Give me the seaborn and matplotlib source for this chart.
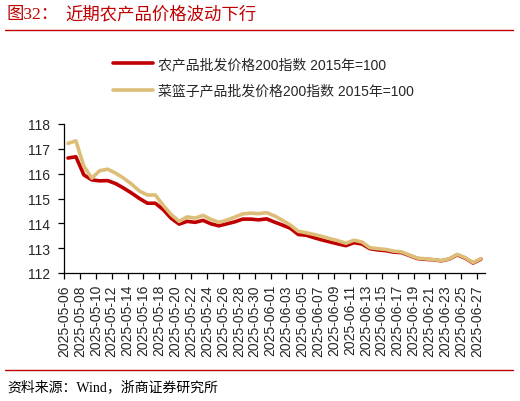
import matplotlib
matplotlib.use('Agg')
import pandas as pd
import matplotlib.pyplot as plt
import matplotlib.dates as mdates
import seaborn as sns
from matplotlib.lines import Line2D

# daily dates shown on the chart
dates = pd.date_range('2025-05-06', '2025-06-27', freq='D')

# 农产品批发价格200指数 (2015=100)
agri_200 = [116.63, 116.68, 115.95, 115.75, 115.71, 115.72, 115.60, 115.42, 115.22, 115.00,
            114.81, 114.81, 114.55, 114.20, 113.97, 114.08, 114.04, 114.12, 113.98, 113.90,
            113.98, 114.06, 114.17, 114.17, 114.14, 114.18, 114.05, 113.93, 113.80, 113.55,
            113.52, 113.42, 113.33, 113.25, 113.17, 113.10, 113.22, 113.17, 112.98, 112.93,
            112.90, 112.84, 112.82, 112.70, 112.58, 112.55, 112.53, 112.49, 112.56, 112.73,
            112.60, 112.40, 112.56]

# 菜篮子产品批发价格200指数 (2015=100)
basket_200 = [117.22, 117.32, 116.30, 115.82, 116.12, 116.18, 116.02, 115.82, 115.58, 115.30,
              115.14, 115.14, 114.72, 114.35, 114.08, 114.26, 114.21, 114.32, 114.16, 114.04,
              114.13, 114.25, 114.38, 114.41, 114.39, 114.43, 114.30, 114.12, 113.93, 113.68,
              113.62, 113.55, 113.47, 113.38, 113.30, 113.20, 113.32, 113.25, 113.02, 112.98,
              112.95, 112.88, 112.85, 112.72, 112.60, 112.57, 112.54, 112.50, 112.57, 112.75,
              112.62, 112.42, 112.58]

labels = ['农产品批发价格200指数 2015年=100', '菜篮子产品批发价格200指数 2015年=100']
tick_dates = dates[::2]
tick_labels = [d.strftime('%Y-%m-%d') for d in tick_dates]
y_ticks = [112, 113, 114, 115, 116, 117, 118]

df = pd.DataFrame({'date': dates, 'agri': agri_200, 'basket': basket_200})

sns.set_style('white')
plt.rcParams['font.family'] = ['Liberation Sans', 'Noto Sans CJK SC']

red = '#C00000'
tan = '#DDBE78'

fig = plt.figure(figsize=(5.2, 4.02), dpi=100)
ax = fig.add_axes([64 / 520, 1 - 274 / 402, 421 / 520, 149 / 402])

sns.lineplot(data=df, x='date', y='agri', color=red, linewidth=2.6, label=labels[0], ax=ax)
sns.lineplot(data=df, x='date', y='basket', color=tan, linewidth=2.6, label=labels[1], ax=ax)

half = pd.Timedelta(hours=12)
ax.set_xlim(mdates.date2num(dates[0] - half), mdates.date2num(dates[-1] + half))
ax.set_ylim(112, 118)
ax.set_xticks(mdates.date2num(tick_dates - half))
ax.set_xticklabels(tick_labels, rotation=90, fontsize=10)
ax.set_yticks(y_ticks)
ax.set_yticklabels([str(v) for v in y_ticks], fontsize=10)
ax.set_xlabel('')
ax.set_ylabel('')

for side in ['top', 'right']:
    ax.spines[side].set_visible(False)
for side in ['left', 'bottom']:
    ax.spines[side].set_color('black')
    ax.spines[side].set_linewidth(0.9)
ax.tick_params(axis='both', which='major', direction='out', length=4, width=0.9,
               color='black', left=True, bottom=True)
ax.tick_params(axis='y', pad=6)
ax.tick_params(axis='x', pad=4)

ax.legend(loc='upper left', bbox_to_anchor=(113 / 520, 1 - 58 / 402),
          bbox_transform=fig.transFigure, frameon=False,
          handlelength=2.9, handletextpad=0.35, labelspacing=0.9,
          borderpad=0, borderaxespad=0,
          prop={'family': ['Liberation Sans', 'Noto Sans CJK SC'], 'size': 10})

# title, rules and source note
serif_cjk = ['Liberation Serif', 'Noto Sans CJK SC']
fig.text(7 / 520, 1 - 15 / 402, '图32：', color=red, fontsize=12.5, va='center',
         family=serif_cjk)
fig.text(65 / 520, 1 - 15 / 402, '近期农产品价格波动下行', color=red, fontsize=12.5,
         va='center', family=serif_cjk)
fig.add_artist(Line2D([5 / 520, 513 / 520], [1 - 31 / 402, 1 - 31 / 402],
                      color=red, linewidth=1, transform=fig.transFigure))
fig.add_artist(Line2D([5 / 520, 513 / 520], [1 - 371 / 402, 1 - 371 / 402],
                      color=red, linewidth=1, transform=fig.transFigure))
fig.text(7 / 520, 1 - 387 / 402, '资料来源：Wind，浙商证券研究所', color='black',
         fontsize=10, va='center', family=serif_cjk)

fig.savefig('out.png', dpi=100)
